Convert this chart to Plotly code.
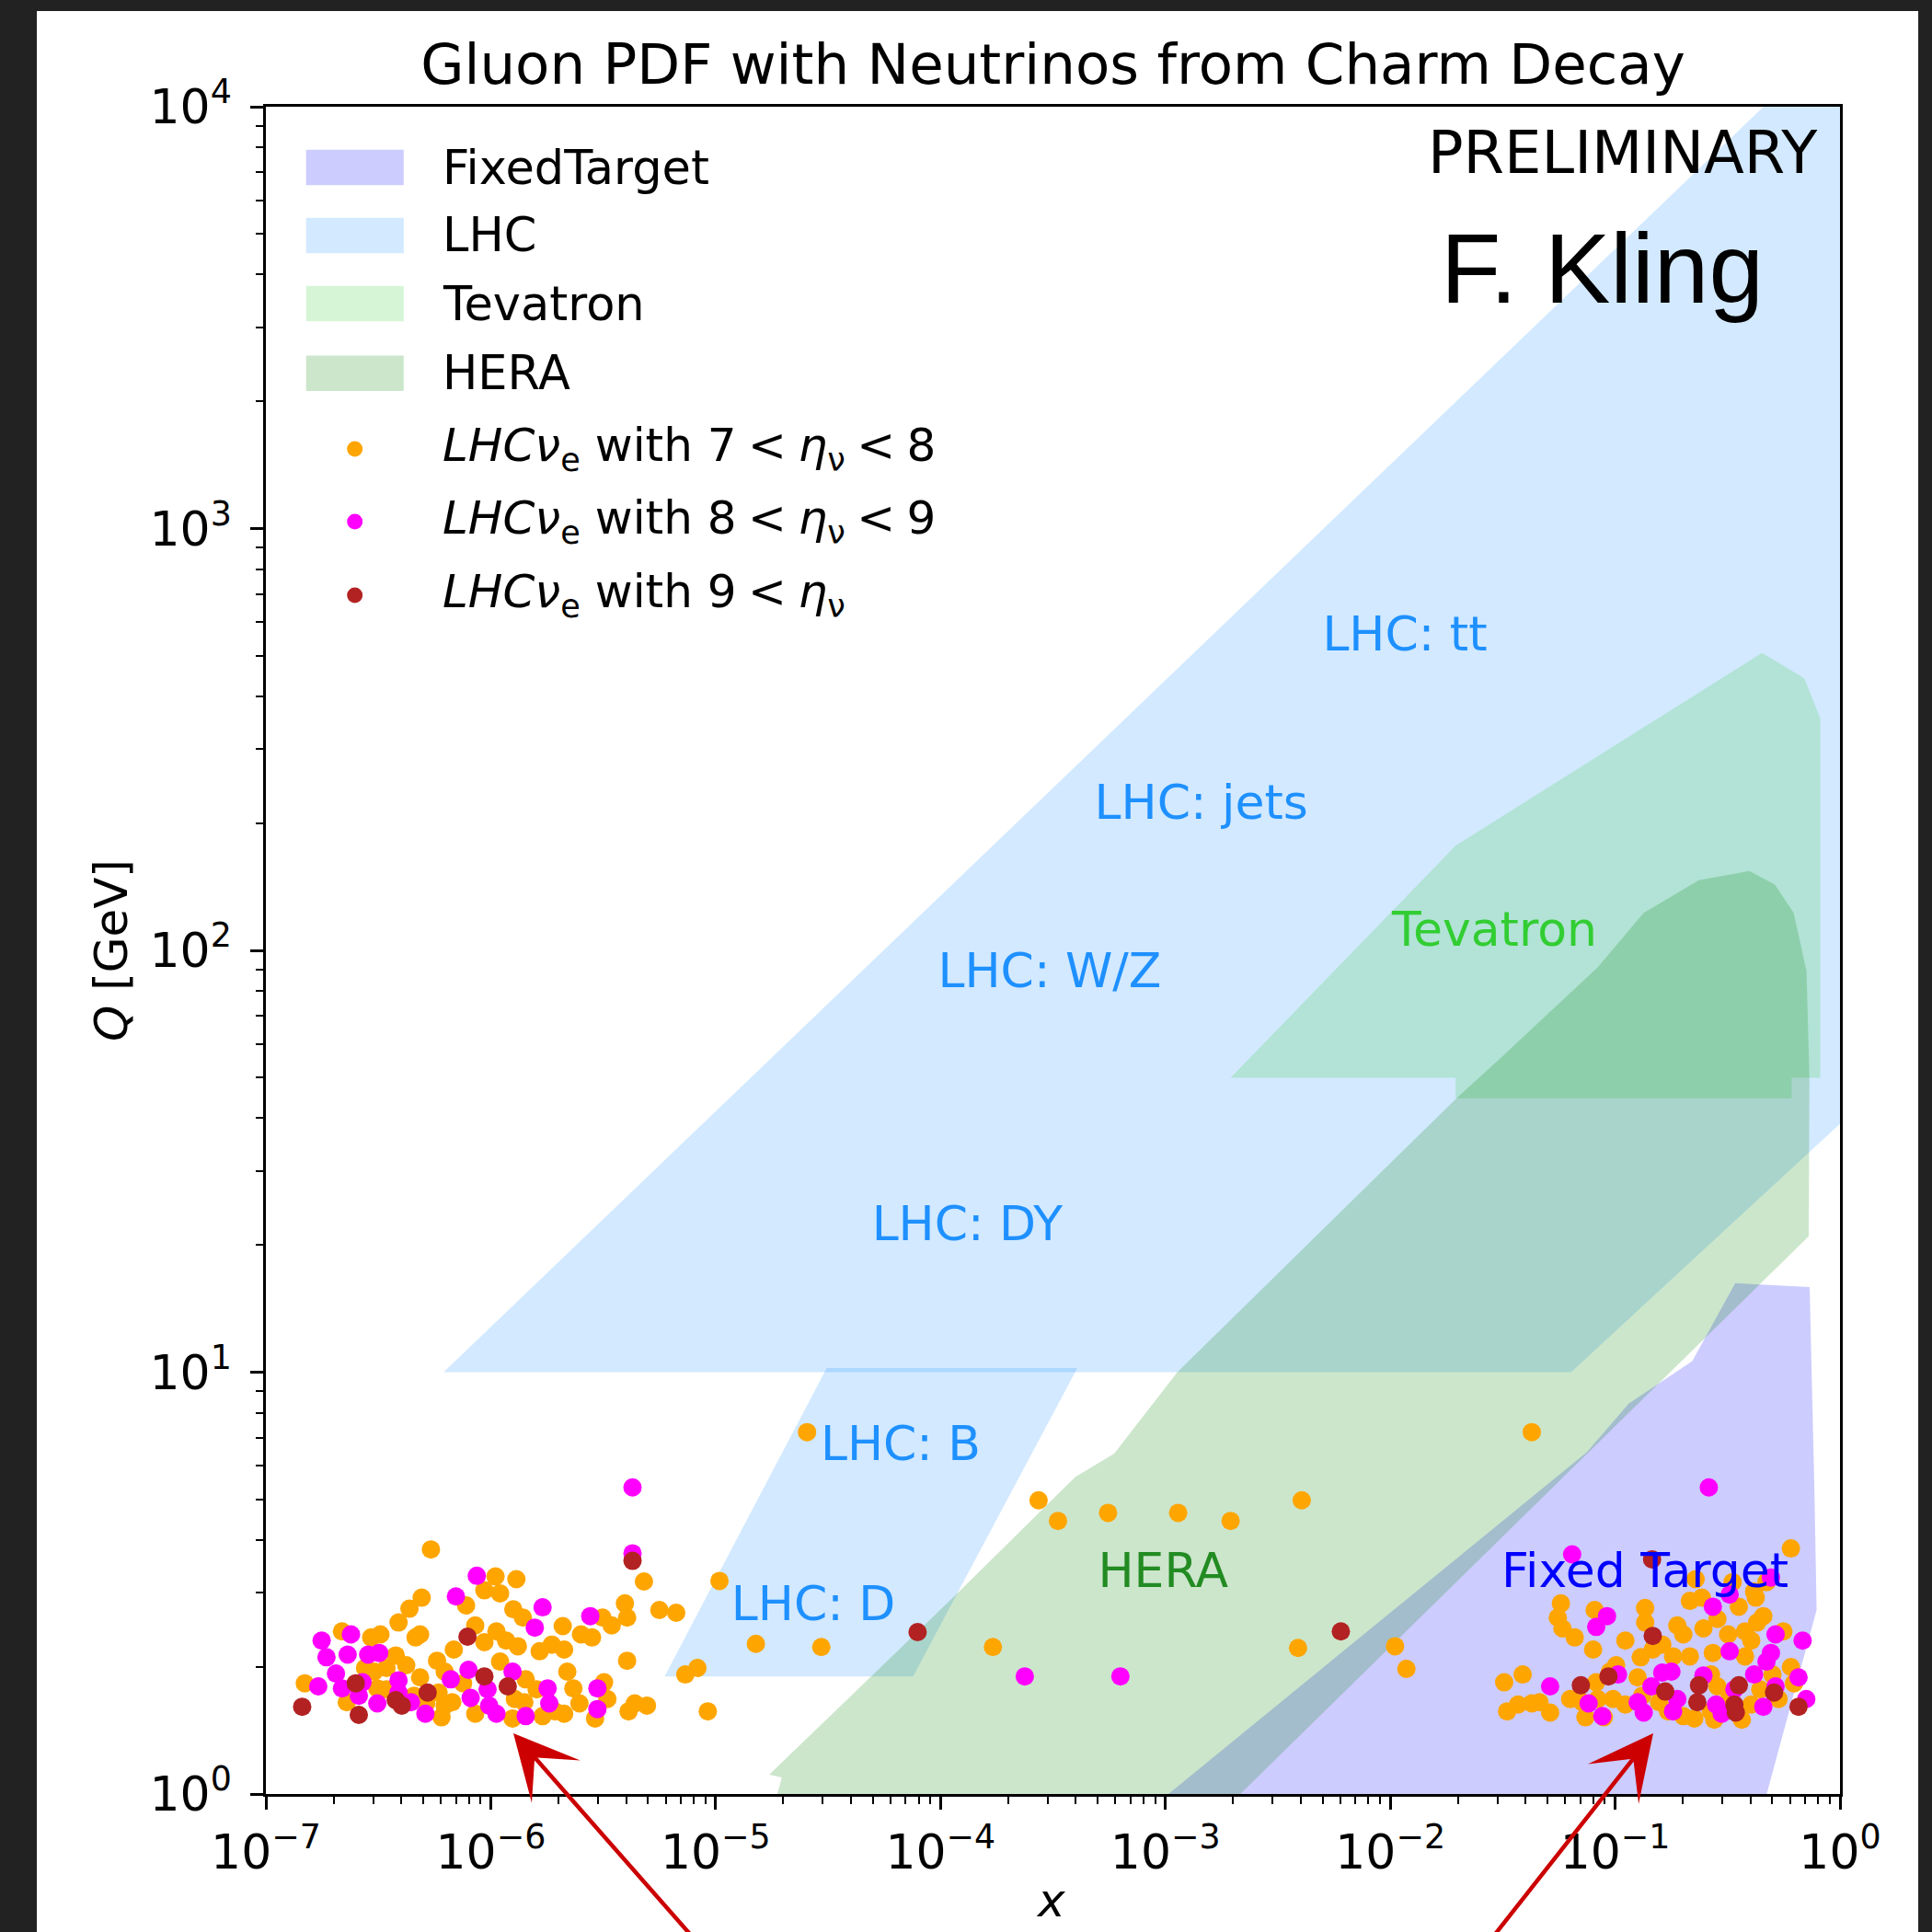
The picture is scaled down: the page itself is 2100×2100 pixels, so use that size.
import plotly.graph_objects as go

# ---------------- data (x, Q [GeV]) ----------------
# coverage regions (outline vertices)
ft_x = [1.03e-3, 0.0750, 0.1151, 0.2203, 0.3420, 0.7328, 0.7691, 0.7870, 0.4721]
ft_q = [1.0, 6.47, 8.43, 10.62, 16.26, 15.91, 5.32, 2.73, 1.0]

lhc_x = [6.17e-7, 0.457, 1.0, 1.0, 0.0637]
lhc_q = [10.0, 1.0e4, 1.0e4, 38.8, 10.0]

lhc_bd_x = [5.93e-6, 3.12e-5, 4.06e-4, 7.55e-5]
lhc_bd_q = [1.90, 10.23, 10.23, 1.90]

tev_x = [1.95e-3, 0.01954, 0.4498, 0.6934, 0.8166, 0.8166, 0.6095, 0.6095, 0.01954, 0.01954]
tev_q = [49.9, 177.0, 507.0, 441.6, 354.8, 49.9, 49.9, 44.6, 44.6, 49.9]

hera_x = [1.88e-5, 1.97e-5, 1.73e-5, 1.15e-4, 3.97e-4, 5.92e-4, 1.13e-3, 0.01986, 0.0308,
          0.0518, 0.0834, 0.134, 0.2355, 0.3954, 0.5129, 0.6223, 0.7096, 0.7311, 0.7261, 2.153e-3]
hera_q = [1.0, 1.095, 1.111, 2.94, 5.64, 6.41, 10.0, 44.8, 55.4,
          71.8, 91.0, 122.7, 146.6, 154.2, 143.2, 122.7, 89.3, 49.9, 21.0, 1.0]

# region labels
label_text = ["LHC: tt", "LHC: jets", "LHC: W/Z", "LHC: DY", "LHC: B", "LHC: D",
              "Tevatron", "HERA", "Fixed Target"]
label_x = [0.01161, 1.445e-3, 3.06e-4, 1.315e-4, 6.65e-5, 2.72e-5, 0.0291, 9.77e-4, 0.1358]
label_q = [549.5, 218.8, 87.5, 21.9, 6.62, 2.76, 109.4, 3.31, 3.31]
label_color = ["#1E90FF"] * 6 + ["#32CD32", "#228B22", "#0000FF"]

# LHCnu_e, 7 < eta < 8
eta78 = [
    (5.42e-7, 3.80), (1.05e-6, 3.28), (1.30e-6, 3.23), (9.37e-7, 3.04), (1.10e-6, 2.99), (4.93e-7, 2.92),
    (4.35e-7, 2.75), (7.77e-7, 2.80), (1.26e-6, 2.74), (4.80e-6, 3.19), (3.95e-6, 2.83), (5.62e-6, 2.73),
    (6.68e-6, 2.69), (4.04e-6, 2.62), (3.14e-6, 2.62), (1.39e-6, 2.62), (3.89e-7, 2.55), (8.53e-7, 2.51),
    (2.09e-6, 2.50), (3.45e-6, 2.51), (4.63e-7, 2.35), (4.85e-7, 2.39), (2.18e-7, 2.43), (2.94e-7, 2.35),
    (3.23e-7, 2.39), (1.06e-6, 2.43), (2.52e-6, 2.39), (2.82e-6, 2.35), (9.37e-7, 2.29), (1.17e-6, 2.31),
    (1.32e-6, 2.24), (1.65e-6, 2.18), (1.87e-6, 2.26), (2.12e-6, 2.20), (6.85e-7, 2.20), (5.77e-7, 2.07),
    (1.10e-6, 2.06), (4.04e-6, 2.07), (3.78e-7, 2.13), (4.21e-7, 2.02), (2.76e-7, 1.99), (3.03e-7, 1.95),
    (3.44e-7, 1.99), (1.49e-7, 1.83), (3.13e-7, 1.78), (4.85e-7, 1.89), (6.24e-7, 1.95), (7.53e-7, 1.83),
    (1.43e-6, 1.87), (2.19e-6, 1.95), (3.19e-6, 1.84), (2.33e-6, 1.78), (1.60e-6, 1.77), (5.86e-7, 1.74),
    (6.24e-7, 1.62), (6.74e-7, 1.65), (4.56e-7, 1.71), (1.28e-6, 1.68), (1.41e-6, 1.65), (1.93e-6, 1.57),
    (2.12e-6, 1.55), (2.48e-6, 1.64), (4.10e-6, 1.57), (4.95e-6, 1.62), (4.37e-6, 1.64), (6.04e-7, 1.52),
    (8.53e-7, 1.55), (1.25e-6, 1.51), (1.70e-6, 1.53), (2.91e-6, 1.51), (7.33e-6, 1.92), (3.30e-6, 1.68),
    (3.44e-7, 1.77), (2.29e-7, 1.65), (5.16e-7, 1.64),
    (1.04e-5, 3.20), (8.30e-6, 1.99), (9.23e-6, 1.57), (1.51e-5, 2.27), (2.95e-5, 2.23), (2.55e-5, 7.21),
    (1.71e-4, 2.23), (2.73e-4, 4.97), (3.33e-4, 4.44), (5.56e-4, 4.64), (1.14e-3, 4.64), (1.95e-3, 4.44),
    (4.04e-3, 4.97), (3.89e-3, 2.22), (1.05e-2, 2.24), (1.18e-2, 1.98), (4.26e-2, 7.21),
    (0.605, 3.82), (0.228, 3.23), (0.333, 3.18), (0.415, 3.02), (0.471, 3.18), (0.0574, 2.83),
    (0.0811, 2.73), (0.136, 2.76), (0.215, 2.87), (0.243, 2.92), (0.355, 2.78), (0.422, 2.92),
    (0.456, 2.64), (0.0556, 2.62), (0.0583, 2.47), (0.0661, 2.35), (0.0798, 2.20), (0.111, 2.31),
    (0.136, 2.55), (0.189, 2.51), (0.201, 2.39), (0.247, 2.47), (0.285, 2.60), (0.318, 2.39),
    (0.378, 2.43), (0.403, 2.31), (0.428, 2.55), (0.162, 2.26), (0.130, 2.11), (0.147, 2.20),
    (0.181, 2.12), (0.215, 2.12), (0.272, 2.16), (0.378, 2.12), (0.560, 2.43), (0.605, 2.00),
    (0.501, 1.92), (0.0948, 1.95), (0.101, 2.02), (0.126, 1.89), (0.0824, 1.84), (0.267, 1.92),
    (0.285, 1.80), (0.0321, 1.84), (0.0388, 1.92), (0.0331, 1.57), (0.0370, 1.63), (0.0426, 1.64),
    (0.0461, 1.65), (0.0514, 1.56), (0.0631, 1.68), (0.0715, 1.65), (0.0837, 1.68), (0.0979, 1.68),
    (0.111, 1.63), (0.132, 1.71), (0.157, 1.65), (0.172, 1.57), (0.201, 1.53), (0.225, 1.51),
    (0.267, 1.57), (0.323, 1.71), (0.403, 1.63), (0.442, 1.77), (0.533, 1.68), (0.624, 1.83),
    (0.366, 1.50), (0.276, 1.50), (0.0738, 1.52), (0.0891, 1.52),
]

# LHCnu_e, 8 < eta < 9
eta89 = [
    (4.27e-6, 5.33), (4.27e-6, 3.72), (8.67e-7, 3.29), (7.00e-7, 2.94), (1.70e-6, 2.77), (2.77e-6, 2.64),
    (1.57e-6, 2.48), (1.77e-7, 2.31), (2.39e-7, 2.39), (1.86e-7, 2.11), (2.31e-7, 2.14), (2.85e-7, 2.14),
    (3.19e-7, 2.16), (2.05e-7, 1.93), (1.71e-7, 1.80), (2.18e-7, 1.78), (2.69e-7, 1.84), (3.89e-7, 1.86),
    (6.64e-7, 1.87), (7.96e-7, 1.97), (1.25e-6, 1.95), (1.79e-6, 1.78), (2.98e-6, 1.78), (3.13e-7, 1.64),
    (4.42e-7, 1.65), (8.14e-7, 1.69), (9.68e-7, 1.77), (9.84e-7, 1.62), (1.06e-6, 1.55), (5.12e-7, 1.55),
    (1.43e-6, 1.53), (1.82e-6, 1.64), (2.98e-6, 1.59), (3.89e-7, 1.74), (2.59e-7, 1.71),
    (2.37e-4, 1.90), (6.31e-4, 1.90),
    (0.261, 5.33), (0.0644, 3.70), (0.493, 3.26), (0.0920, 2.64), (0.0824, 2.49), (0.272, 2.78),
    (0.323, 2.97), (0.517, 2.39), (0.682, 2.31), (0.323, 2.18), (0.493, 2.16), (0.471, 2.06),
    (0.178, 1.95), (0.162, 1.94), (0.247, 1.91), (0.415, 1.92), (0.654, 1.89), (0.708, 1.68),
    (0.0514, 1.80), (0.0762, 1.64), (0.0877, 1.53), (0.126, 1.65), (0.134, 1.56), (0.145, 1.80),
    (0.189, 1.68), (0.181, 1.57), (0.281, 1.63), (0.298, 1.55), (0.456, 1.61), (0.517, 1.80),
    (0.339, 1.77), (0.103, 1.92),
]

# LHCnu_e, 9 < eta
eta9 = [
    (4.27e-6, 3.57), (7.88e-7, 2.36), (2.51e-7, 1.83), (5.24e-7, 1.74), (9.37e-7, 1.90), (1.19e-6, 1.80),
    (3.78e-7, 1.67), (4.02e-7, 1.62), (1.45e-7, 1.61), (2.59e-7, 1.54),
    (7.91e-5, 2.42), (6.03e-3, 2.43),
    (0.146, 3.60), (0.147, 2.37), (0.0704, 1.81), (0.0934, 1.90), (0.167, 1.75), (0.236, 1.81),
    (0.232, 1.65), (0.355, 1.81), (0.339, 1.63), (0.344, 1.56), (0.509, 1.74), (0.654, 1.61),
]

x_tickvals = [1e-7, 1e-6, 1e-5, 1e-4, 1e-3, 1e-2, 1e-1, 1e0]
x_ticktext = ["10<sup>\u22127</sup>", "10<sup>\u22126</sup>", "10<sup>\u22125</sup>", "10<sup>\u22124</sup>",
              "10<sup>\u22123</sup>", "10<sup>\u22122</sup>", "10<sup>\u22121</sup>", "10<sup>0</sup>"]
y_tickvals = [1e0, 1e1, 1e2, 1e3, 1e4]
y_ticktext = ["10<sup>0</sup>", "10<sup>1</sup>", "10<sup>2</sup>", "10<sup>3</sup>", "10<sup>4</sup>"]

# ---------------- styles ----------------
FONT = "DejaVu Sans"
C_FT = "rgba(0,0,255,0.2)"
C_LHC = "rgba(30,144,255,0.2)"
C_TEV = "rgba(50,205,50,0.2)"
C_HERA = "rgba(0,128,0,0.2)"
C_O, C_M, C_R = "#FFA500", "#FF00FF", "#B22222"

fig = go.Figure()


def region(xs, qs, color, name):
    fig.add_trace(go.Scatter(x=list(xs) + [xs[0]], y=list(qs) + [qs[0]], fill="toself",
                             fillcolor=color, mode="lines", line=dict(width=0),
                             name=name, showlegend=False, hoverinfo="skip"))


region(ft_x, ft_q, C_FT, "FixedTarget")
region(lhc_x, lhc_q, C_LHC, "LHC")
region(lhc_bd_x, lhc_bd_q, C_LHC, "LHC")
region(tev_x, tev_q, C_TEV, "Tevatron")
region(hera_x, hera_q, C_HERA, "HERA")

for pts, col, nm in [(eta78, C_O, "7<eta<8"), (eta89, C_M, "8<eta<9"), (eta9, C_R, "9<eta")]:
    xs, qs = zip(*pts)
    fig.add_trace(go.Scatter(x=list(xs), y=list(qs), mode="markers", name=nm, showlegend=False,
                             marker=dict(size=20, color=col, line=dict(width=0))))

fig.add_trace(go.Scatter(x=label_x, y=label_q, mode="text", text=label_text, showlegend=False,
                         textposition="middle center",
                         textfont=dict(family=FONT, size=52, color=label_color)))

# ---------------- layout ----------------
minor_x = [m * 10.0 ** e for e in range(-7, 0) for m in range(2, 10)]
minor_y = [m * 10.0 ** e for e in range(0, 4) for m in range(2, 10)]

axis_common = dict(type="log", showgrid=False, zeroline=False, showline=True, linecolor="black",
                   linewidth=2.5, mirror=True, ticks="outside", ticklen=14, tickwidth=2.5,
                   tickcolor="black", tickfont=dict(family=FONT, size=52, color="black"))

fig.update_layout(
    width=2100, height=2100, autosize=False,
    margin=dict(l=289, r=100, t=116, b=150),
    paper_bgcolor="#222222", plot_bgcolor="white",
    font=dict(family=FONT, color="black"),
    title=dict(text="Gluon PDF with Neutrinos from Charm Decay", font=dict(family=FONT, size=61, color="black"),
               x=0.5, xref="paper", xanchor="center", y=1 - 70 / 2100, yref="container", yanchor="middle"),
    xaxis=dict(range=[-7, 0], tickmode="array", tickvals=x_tickvals, ticktext=x_ticktext,
               minor=dict(tickmode="array", tickvals=minor_x, ticks="outside", ticklen=8, tickwidth=2,
                          tickcolor="black", showgrid=False),
               ticklabelstandoff=2, **axis_common),
    yaxis=dict(range=[0, 4], tickmode="array", tickvals=y_tickvals, ticktext=y_ticktext,
               minor=dict(tickmode="array", tickvals=minor_y, ticks="outside", ticklen=8, tickwidth=2,
                          tickcolor="black", showgrid=False),
               ticklabelstandoff=10, **axis_common),
    showlegend=False,
)

# white page area inside the dark frame
fig.add_shape(type="rect", xref="paper", yref="paper", x0=-0.1455, x1=1.0497, y0=-0.10, y1=1.0567,
              fillcolor="white", line=dict(width=0), layer="below")

# custom legend (matplotlib style)
PW0, PW1 = 0.02554, 0.08755
HH = 0.01052
TX = 0.1110
patch_rows = [("FixedTarget", C_FT, 0.9640), ("LHC", C_LHC, 0.9237),
              ("Tevatron", C_TEV, 0.8833), ("HERA", C_HERA, 0.8420)]
for name, col, cy in patch_rows:
    fig.add_shape(type="rect", xref="paper", yref="paper", x0=PW0, x1=PW1, y0=cy - HH, y1=cy + HH,
                  fillcolor=col, line=dict(width=0), layer="above")
    fig.add_annotation(xref="paper", yref="paper", x=TX, y=cy, xanchor="left", yanchor="middle",
                       text=name, showarrow=False, font=dict(family=FONT, size=51, color="black"))

SP = "\u2005"
dot_rows = [(f"<i>LHC\u03bd</i><sub>e</sub> with 7{SP}&lt;{SP}<i>\u03b7</i><sub>\u03bd</sub>{SP}&lt;{SP}8", C_O, 0.7972),
            (f"<i>LHC\u03bd</i><sub>e</sub> with 8{SP}&lt;{SP}<i>\u03b7</i><sub>\u03bd</sub>{SP}&lt;{SP}9", C_M, 0.7541),
            (f"<i>LHC\u03bd</i><sub>e</sub> with 9{SP}&lt;{SP}<i>\u03b7</i><sub>\u03bd</sub>", C_R, 0.7105)]
for txt, col, cy in dot_rows:
    fig.add_shape(type="circle", xref="paper", yref="paper", xsizemode="pixel", ysizemode="pixel",
                  xanchor=0.0565, yanchor=cy, x0=-8.5, x1=8.5, y0=-8.5, y1=8.5,
                  fillcolor=col, line=dict(width=0), layer="above")
    fig.add_annotation(xref="paper", yref="paper", x=TX, y=cy, xanchor="left", yanchor="middle",
                       text=txt, showarrow=False, font=dict(family=FONT, size=50, color="black"))

# texts
fig.add_annotation(xref="paper", yref="paper", x=0.9871, y=0.973, xanchor="right", yanchor="middle",
                   text="PRELIMINARY", showarrow=False, font=dict(family=FONT, size=64, color="black"))
fig.add_annotation(xref="paper", yref="paper", x=0.8487, y=0.9038, xanchor="center", yanchor="middle",
                   text="F. Kling", showarrow=False, font=dict(family="Liberation Sans", size=107, color="black"))
fig.add_annotation(xref="paper", yref="paper", x=-0.0985, y=0.5002, xanchor="center", yanchor="middle",
                   text="<i>Q</i> [GeV]", textangle=-90, showarrow=False,
                   font=dict(family=FONT, size=50, color="black"))
fig.add_annotation(xref="paper", yref="paper", x=0.4985, y=-0.0632, xanchor="center", yanchor="middle",
                   text="<i>x</i>", showarrow=False, font=dict(family=FONT, size=50, color="black"))

# red arrows (head / tail in log10 axis units)
for hx, tx in [(-5.8995, -5.0142), (-0.8306, -1.6227)]:
    fig.add_annotation(xref="x", yref="y", x=hx, y=0.144, axref="x", ayref="y", ax=tx, ay=-0.3926,
                       text="", showarrow=True, arrowhead=3, arrowsize=2.6, arrowwidth=4.5,
                       arrowcolor="#cc0000", standoff=0)

fig.write_html("out.html")
